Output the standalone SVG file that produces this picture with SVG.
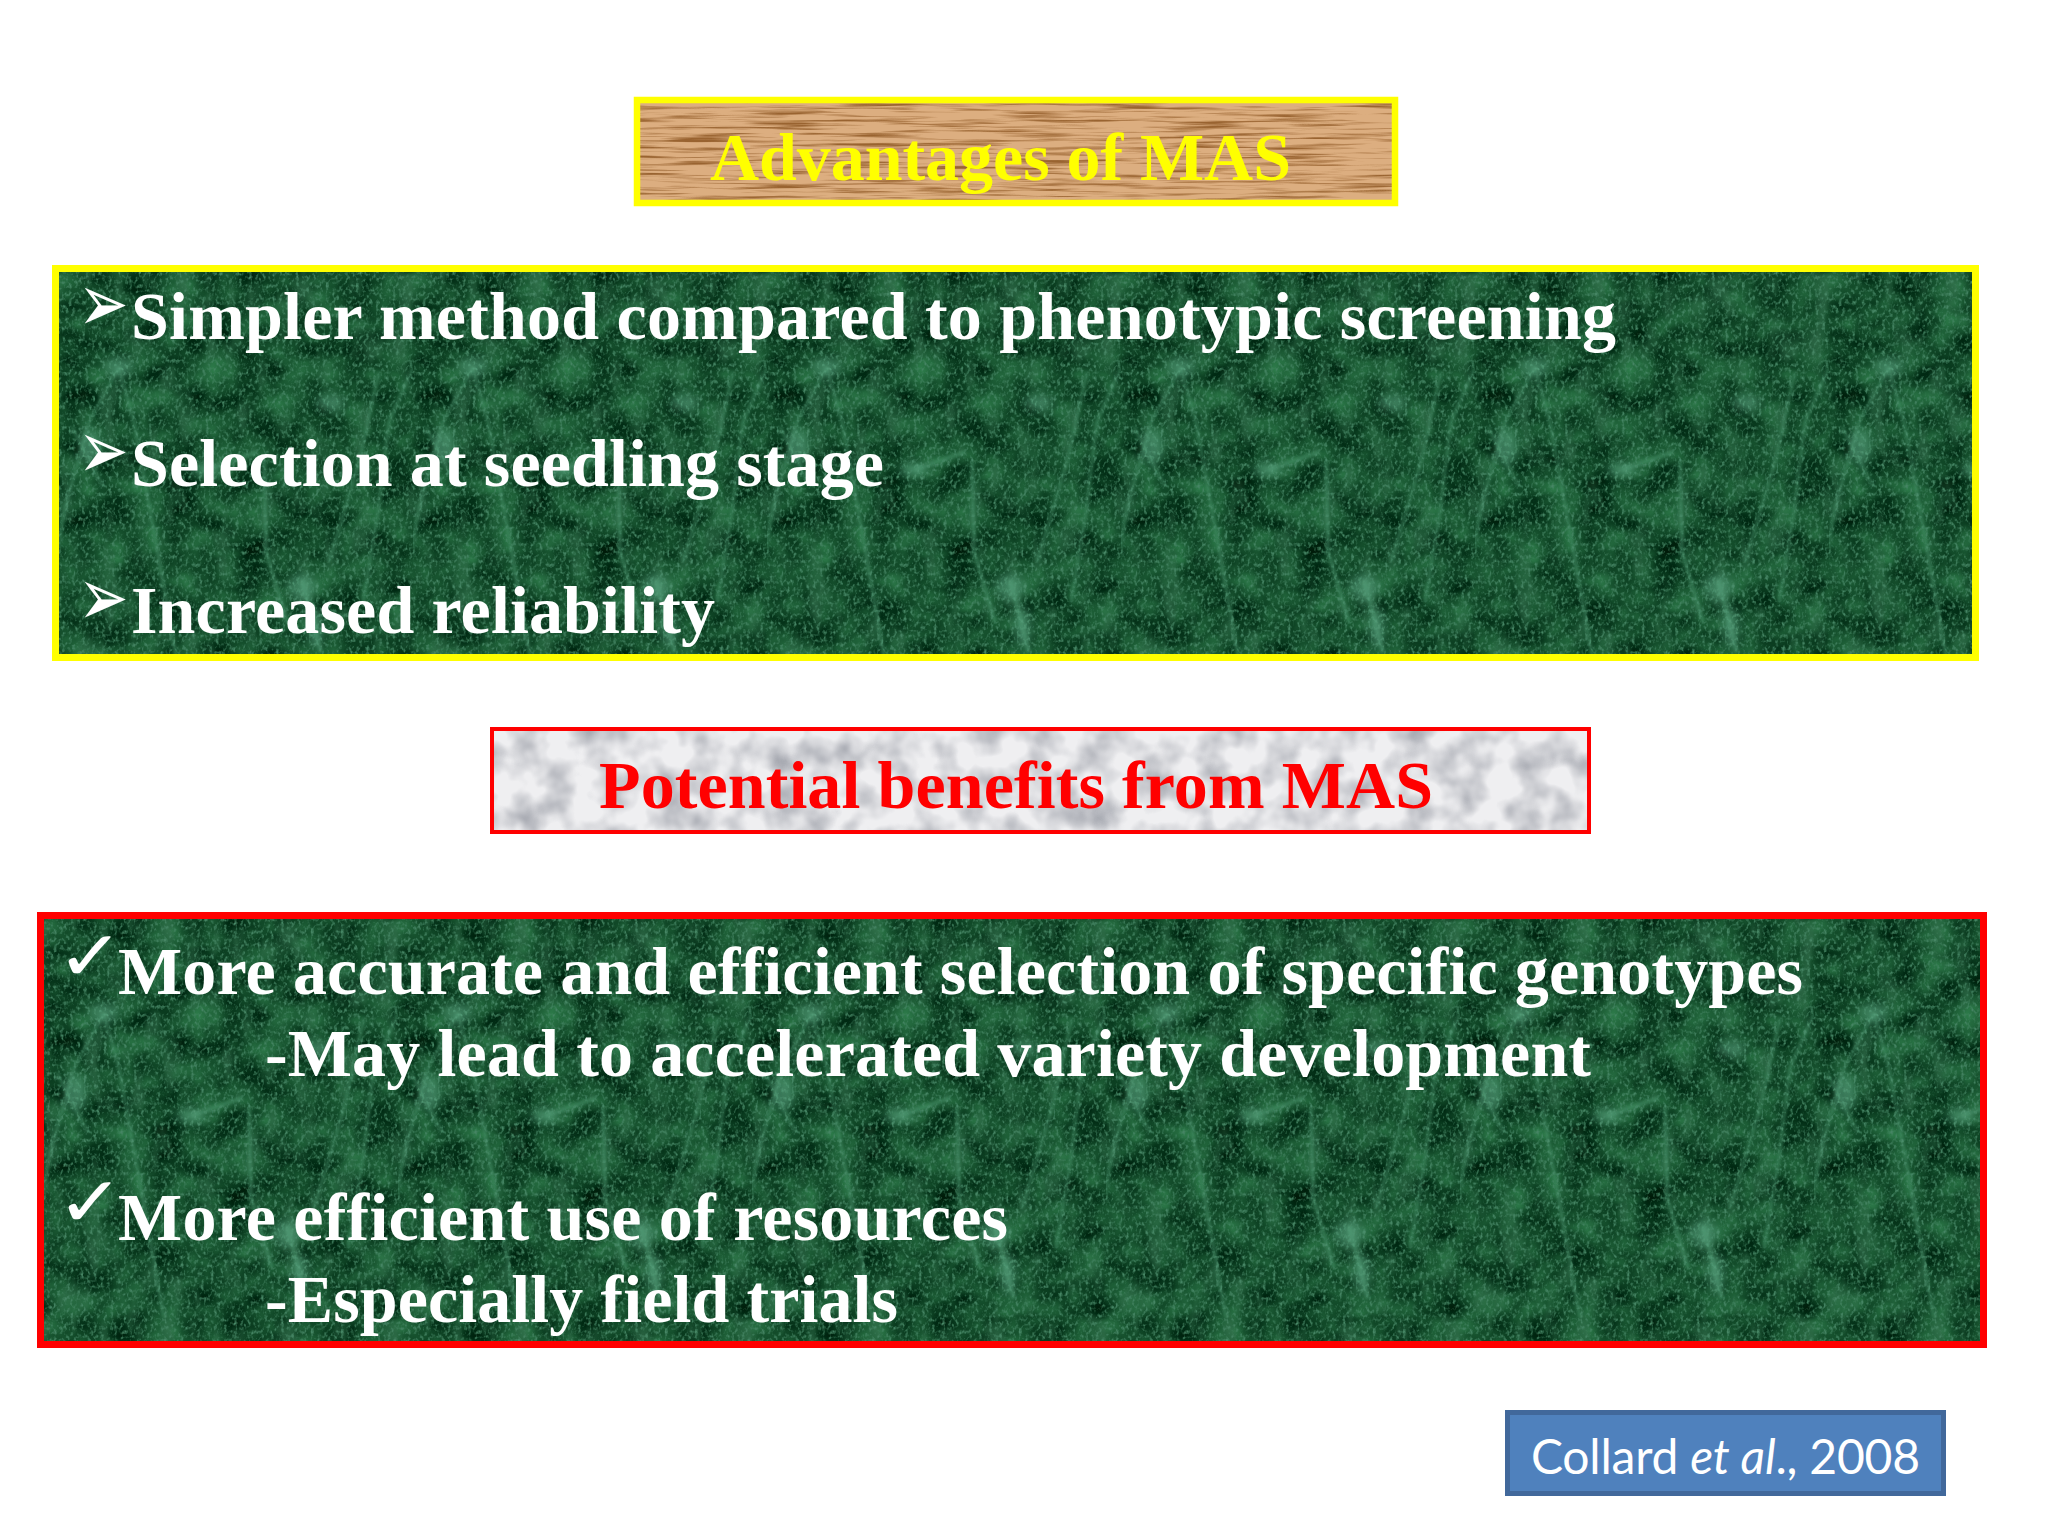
<svg xmlns="http://www.w3.org/2000/svg" width="2048" height="1536" viewBox="0 0 2048 1536">
<style>
.s{font-family:"Liberation Serif","Times New Roman",serif;font-weight:700;font-size:68px}
.w{fill:#fff}
.b{font-family:"DejaVu Sans",sans-serif;fill:#fff}
.a{font-size:56px}
.k{font-size:60px}
.c{font-family:Lato,"Open Sans",sans-serif;font-size:48px;fill:#fff}
</style>
<defs>
<filter id="fg" x="0" y="0" width="1" height="1" color-interpolation-filters="sRGB">
<feTurbulence type="fractalNoise" baseFrequency="0.028 0.034" numOctaves="3" seed="4" stitchTiles="stitch" result="n"/>
<feColorMatrix in="n" type="matrix" values="0.28 0 0 0 -0.07  0.5 0 0 0 0.04  0.34 0 0 0 -0.01  0 0 0 0 1" result="base"/>
<feTurbulence type="fractalNoise" baseFrequency="0.3 0.24" numOctaves="2" seed="9" stitchTiles="stitch" result="h"/>
<feColorMatrix in="h" type="matrix" values="0 0 0 0 0.27  0 0 0 0 0.52  0 0 0 0 0.39  3 0 0 0 -1.45" result="sp"/>
<feTurbulence type="fractalNoise" baseFrequency="0.05 0.02" numOctaves="3" seed="21" stitchTiles="stitch" result="v"/>
<feColorMatrix in="v" type="matrix" values="0 0 0 0 0.2  0 0 0 0 0.43  0 0 0 0 0.3  2.2 0 0 0 -1.2" result="vl"/>
<feMerge><feMergeNode in="base"/><feMergeNode in="vl"/><feMergeNode in="sp"/></feMerge>
</filter>
<filter id="bl" x="-20%" y="-20%" width="140%" height="140%"><feGaussianBlur stdDeviation="1.600"/></filter>
<filter id="bb" x="-60%" y="-60%" width="220%" height="220%"><feGaussianBlur stdDeviation="4"/></filter>
<pattern id="green" x="59" y="272" width="354" height="400" patternUnits="userSpaceOnUse">
<rect width="354" height="400" filter="url(#fg)"/>
<g filter="url(#bl)" fill="none" stroke="#4f9a74" stroke-opacity=".5">
<path d="M60 95L30 150L5 240L-10 330" stroke-width="3"/>
<path d="M60 95L75 150L95 260L120 400" stroke-width="3"/>
<path d="M147 198L198 180" stroke-width="4"/>
<path d="M205 190L207 280L228 350" stroke-width="4"/>
<path d="M243 308L262 381" stroke-width="5"/>
<path d="M13 155L44 215" stroke-width="3"/>
<path d="M320 100L300 190L270 290" stroke-width="3"/>
<path d="M354 95L330 150L319 240L304 330" stroke-width="3"/>
</g>
<g filter="url(#bb)" fill="#5ba682" fill-opacity=".6">
<ellipse cx="60" cy="95" rx="14" ry="10"/>
<ellipse cx="271" cy="131" rx="14" ry="8"/>
<ellipse cx="32" cy="175" rx="10" ry="18"/>
<ellipse cx="147" cy="198" rx="15" ry="7"/>
<ellipse cx="243" cy="315" rx="15" ry="13"/>
<ellipse cx="256" cy="355" rx="8" ry="20"/>
</g>
</pattern>
<pattern id="green2" href="#green" x="44" y="918"/>
<filter id="fw" x="0" y="0" width="1" height="1" color-interpolation-filters="sRGB">
<feTurbulence type="fractalNoise" baseFrequency="0.012 0.3" numOctaves="3" seed="7" result="n"/>
<feColorMatrix in="n" type="matrix" values="0 0 0 0 0.6  0 0 0 0 0.39  0 0 0 0 0.19  3.4 0 0 0 -1.6" result="d"/>
<feFlood flood-color="#dcae80" result="f"/>
<feMerge><feMergeNode in="f"/><feMergeNode in="d"/></feMerge>
</filter>
<filter id="fm" x="0" y="0" width="1" height="1" color-interpolation-filters="sRGB">
<feTurbulence type="fractalNoise" baseFrequency="0.035" numOctaves="3" seed="12"/>
<feGaussianBlur stdDeviation="1.500" result="n"/>
<feColorMatrix in="n" type="matrix" values="0 0 0 0 0.66  0 0 0 0 0.67  0 0 0 0 0.7  2 0 0 0 -0.75" result="d"/>
<feFlood flood-color="#efeff1" result="f"/>
<feMerge><feMergeNode in="f"/><feMergeNode in="d"/></feMerge>
</filter>
</defs>
<rect width="2048" height="1536" fill="#fff"/>

<g id="node-advantages-title">
<rect x="637" y="100" width="758" height="103" filter="url(#fw)"/>
<rect x="637" y="100" width="758" height="103" fill="none" stroke="#ff0" stroke-width="6.500"/>
<text class="s" x="710" y="179.500" fill="#ff0" textLength="581">Advantages of MAS</text>
</g>

<g id="node-advantages-list">
<rect x="55.500" y="268.500" width="1920" height="389" fill="url(#green)" stroke="#ff0" stroke-width="7"/>
<text class="b a" transform="translate(78 331) scale(1.08 1.45)">➢</text>
<text class="s w" x="131" y="339" textLength="1485">Simpler method compared to phenotypic screening</text>
<text class="b a" transform="translate(78 478) scale(1.08 1.45)">➢</text>
<text class="s w" x="131" y="486" textLength="753">Selection at seedling stage</text>
<text class="b a" transform="translate(78 625) scale(1.08 1.45)">➢</text>
<text class="s w" x="131" y="633" textLength="584">Increased reliability</text>
</g>

<g id="node-benefits-title">
<rect x="492" y="729" width="1097" height="103" filter="url(#fm)"/>
<rect x="492" y="729" width="1097" height="103" fill="none" stroke="#f00" stroke-width="4"/>
<text class="s" x="599" y="808" fill="#f00" textLength="834">Potential benefits from MAS</text>
</g>

<g id="node-benefits-list">
<rect x="40.500" y="915.500" width="1943" height="429" fill="url(#green2)" stroke="#f00" stroke-width="7"/>
<text class="b k" transform="translate(56.500 980) scale(1.35 1.16)">✓</text>
<text class="s w" x="118" y="993.500" textLength="1685">More accurate and efficient selection of specific genotypes</text>
<text class="s w" x="265" y="1076" textLength="1326">-May lead to accelerated variety development</text>
<text class="b k" transform="translate(56.500 1226) scale(1.35 1.16)">✓</text>
<text class="s w" x="118" y="1239.500" textLength="890">More efficient use of resources</text>
<text class="s w" x="265" y="1322" textLength="633">-Especially field trials</text>
</g>

<g id="node-citation">
<rect x="1507.500" y="1412.500" width="436" height="81" fill="#4f81bd" stroke="#41689b" stroke-width="5"/>
<text class="c" x="1531" y="1474" textLength="389">Collard <tspan font-style="italic">et al</tspan>., 2008</text>
</g>
<g id="connectors"/>
</svg>
